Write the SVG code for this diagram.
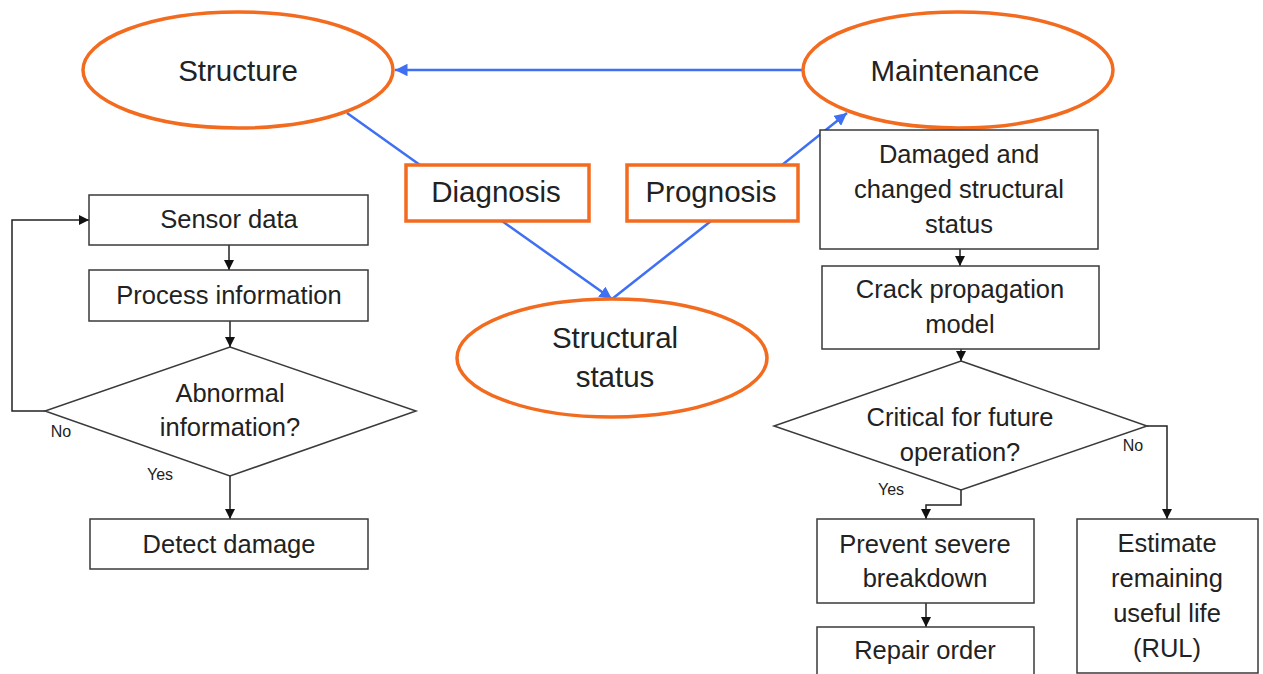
<svg xmlns="http://www.w3.org/2000/svg" width="1263" height="674" viewBox="0 0 1263 674">
<defs>
<style>
.oval{fill:#fff;stroke:#F26B1F;stroke-width:3.5}
.obox{fill:#fff;stroke:#F26B1F;stroke-width:3.5}
.box{fill:#fff;stroke:#3a3a3a;stroke-width:1.5}
.big{font-family:"Liberation Sans",Arial,sans-serif;font-size:29.5px;fill:#222;text-anchor:middle}
.txt{font-family:"Liberation Sans",Arial,sans-serif;font-size:25.5px;fill:#222;text-anchor:middle}
.sm{font-family:"Liberation Sans",Arial,sans-serif;font-size:16px;fill:#222;text-anchor:middle}
.blue{stroke:#3F6FF2;stroke-width:2.5;fill:none}
.blk{stroke:#222;stroke-width:1.5;fill:none}
</style>
<marker id="ab" viewBox="0 0 10 10" refX="10" refY="5" markerWidth="5" markerHeight="5" orient="auto" markerUnits="strokeWidth">
<path d="M0,0 L10,5 L0,10 z" fill="#3F6FF2"/>
</marker>
<marker id="ak" viewBox="0 0 10 10" refX="10" refY="5" markerWidth="7" markerHeight="7" orient="auto" markerUnits="strokeWidth">
<path d="M0,0 L10,5 L0,10 z" fill="#111"/>
</marker>
</defs>
<rect width="1263" height="674" fill="#fff"/>
<g id="connectors">
<line class="blue" x1="803" y1="70" x2="395" y2="70" marker-end="url(#ab)"/>
<line class="blue" x1="347" y1="113" x2="420" y2="165"/>
<line class="blue" x1="502" y1="221" x2="612" y2="299" marker-end="url(#ab)"/>
<line class="blue" x1="711" y1="221" x2="612" y2="299"/>
<line class="blue" x1="782" y1="165" x2="847" y2="113" marker-end="url(#ab)"/>
<line class="blk" x1="229" y1="245" x2="229" y2="270" marker-end="url(#ak)"/>
<line class="blk" x1="230" y1="321" x2="230" y2="347" marker-end="url(#ak)"/>
<polyline class="blk" points="45,411 12,411 12,220 89,220" marker-end="url(#ak)"/>
<line class="blk" x1="230" y1="476" x2="230" y2="519" marker-end="url(#ak)"/>
<line class="blk" x1="960" y1="249" x2="960" y2="266" marker-end="url(#ak)"/>
<line class="blk" x1="961" y1="349" x2="961" y2="361" marker-end="url(#ak)"/>
<polyline class="blk" points="961,490 961,505 926,505 926,519" marker-end="url(#ak)"/>
<polyline class="blk" points="1147,426 1167,426 1167,519" marker-end="url(#ak)"/>
<line class="blk" x1="926" y1="603" x2="926" y2="627" marker-end="url(#ak)"/>
<text class="sm" x="61" y="437">No</text>
<text class="sm" x="160" y="480">Yes</text>
<text class="sm" x="1133" y="451">No</text>
<text class="sm" x="891" y="495">Yes</text>
</g>
<g id="structure">
<ellipse class="oval" cx="238" cy="70" rx="155" ry="58"/>
<text class="big" x="238" y="81">Structure</text>
</g>
<g id="maintenance">
<ellipse class="oval" cx="958" cy="70" rx="155" ry="58"/>
<text class="big" x="955" y="81">Maintenance</text>
</g>
<g id="structural-status">
<ellipse class="oval" cx="612" cy="358" rx="155" ry="59"/>
<text class="big" x="615" y="348">Structural</text>
<text class="big" x="615" y="387">status</text>
</g>
<g id="diagnosis">
<rect class="obox" x="406" y="165" width="183" height="56"/>
<text class="big" x="496" y="202">Diagnosis</text>
</g>
<g id="prognosis">
<rect class="obox" x="627" y="165" width="171" height="56"/>
<text class="big" x="711" y="202">Prognosis</text>
</g>
<g id="sensor-data">
<rect class="box" x="89" y="195" width="279" height="50"/>
<text class="txt" x="229" y="228">Sensor data</text>
</g>
<g id="process-information">
<rect class="box" x="89" y="270" width="279" height="51"/>
<text class="txt" x="229" y="304">Process information</text>
</g>
<g id="abnormal">
<polygon class="box" points="230,347 416,411 230,476 45,411"/>
<text class="txt" x="230" y="402">Abnormal</text>
<text class="txt" x="230" y="436">information?</text>
</g>
<g id="detect-damage">
<rect class="box" x="90" y="519" width="278" height="50"/>
<text class="txt" x="229" y="553">Detect damage</text>
</g>
<g id="damaged">
<rect class="box" x="820" y="130" width="278" height="119"/>
<text class="txt" x="959" y="163">Damaged and</text>
<text class="txt" x="959" y="198">changed structural</text>
<text class="txt" x="959" y="233">status</text>
</g>
<g id="crack">
<rect class="box" x="822" y="266" width="277" height="83"/>
<text class="txt" x="960" y="298">Crack propagation</text>
<text class="txt" x="960" y="333">model</text>
</g>
<g id="critical">
<polygon class="box" points="961,361 1147,426 961,490 774,426"/>
<text class="txt" x="960" y="426">Critical for future</text>
<text class="txt" x="960" y="461">operation?</text>
</g>
<g id="prevent">
<rect class="box" x="817" y="519" width="217" height="84"/>
<text class="txt" x="925" y="553">Prevent severe</text>
<text class="txt" x="925" y="587">breakdown</text>
</g>
<g id="repair">
<rect class="box" x="817" y="627" width="217" height="60"/>
<text class="txt" x="925" y="659">Repair order</text>
</g>
<g id="estimate">
<rect class="box" x="1077" y="519" width="181" height="154"/>
<text class="txt" x="1167" y="552">Estimate</text>
<text class="txt" x="1167" y="587">remaining</text>
<text class="txt" x="1167" y="622">useful life</text>
<text class="txt" x="1167" y="657">(RUL)</text>
</g>
</svg>
